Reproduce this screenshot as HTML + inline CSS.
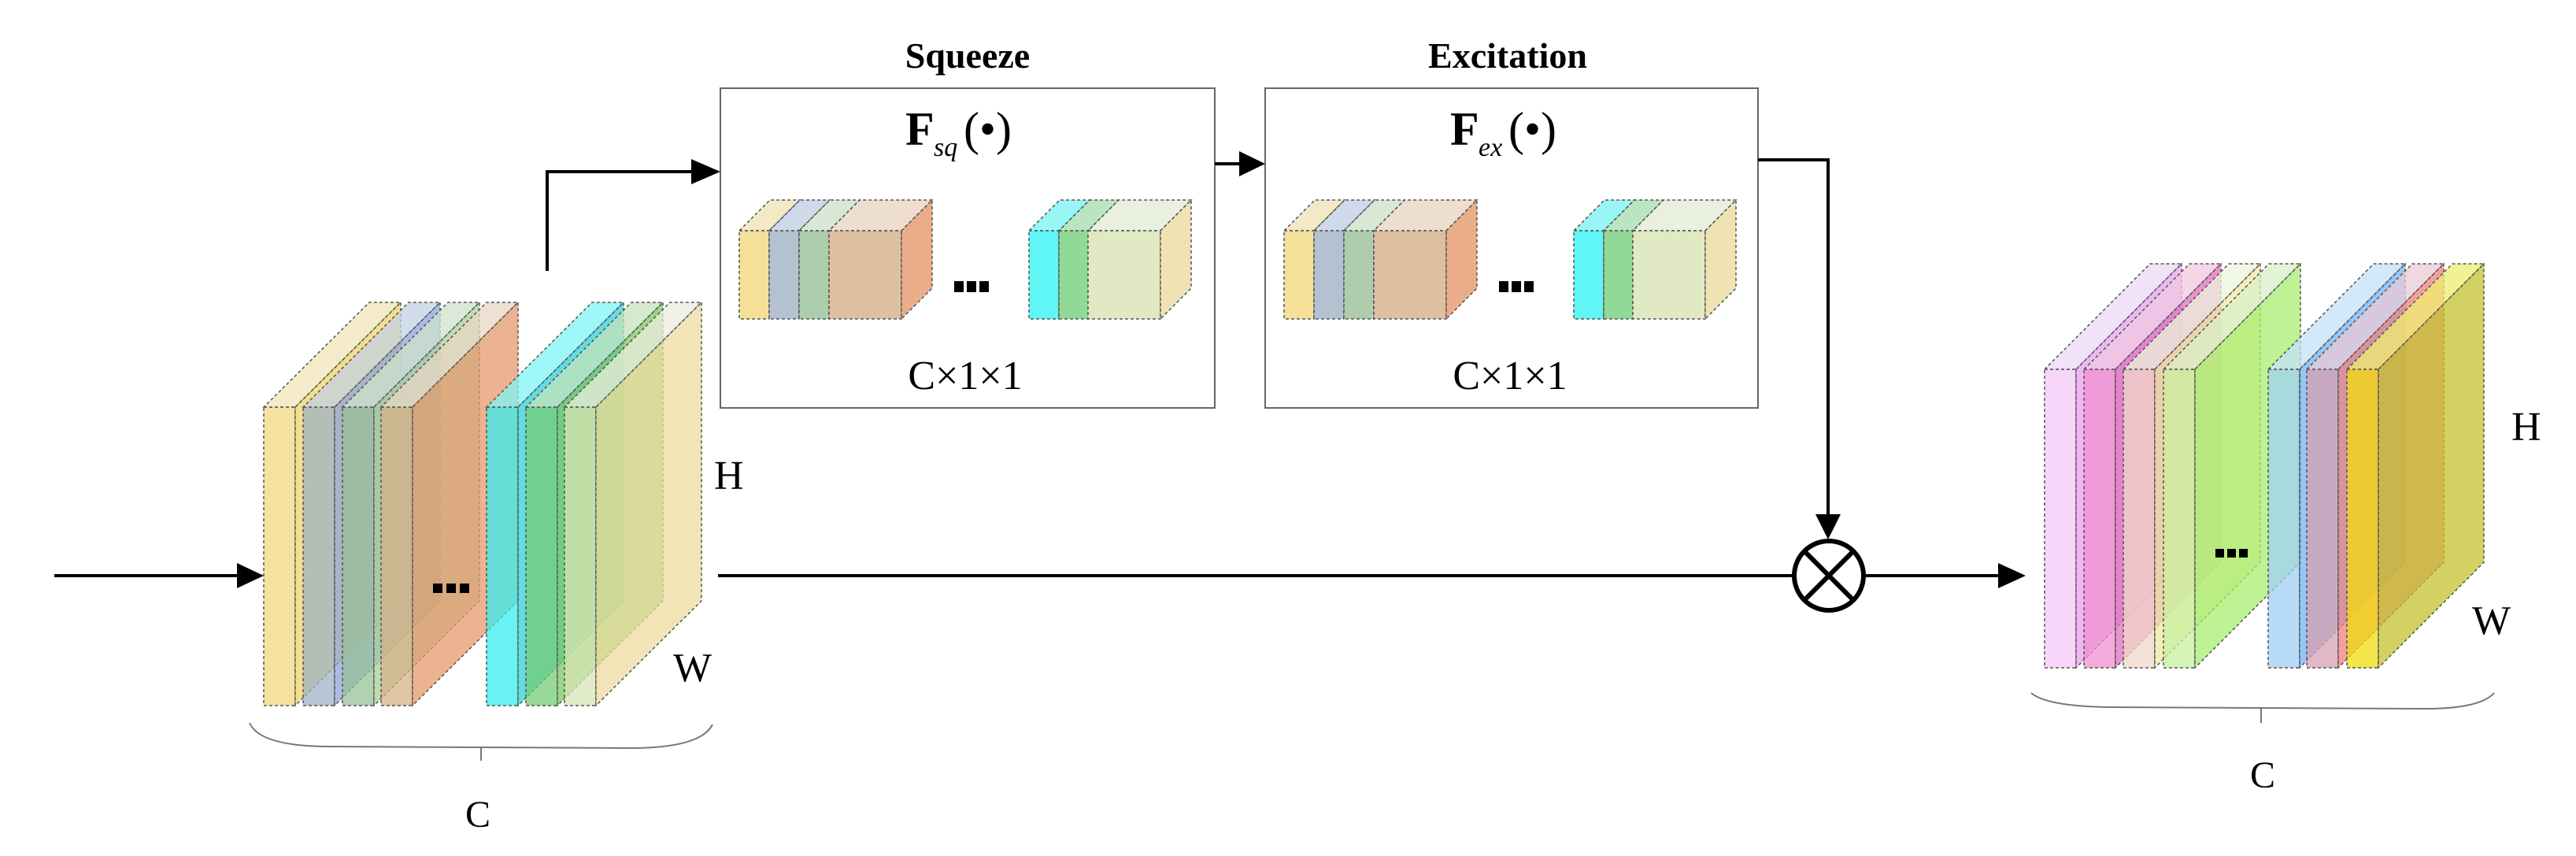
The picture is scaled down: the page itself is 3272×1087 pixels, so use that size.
<!DOCTYPE html>
<html><head><meta charset="utf-8"><style>
html,body{margin:0;padding:0;background:#fff;}
svg{display:block;}
text{font-family:"Liberation Serif",serif;fill:#000;}
.d polygon,.d rect{stroke:#555;stroke-width:1.5;stroke-dasharray:4 3;}
</style></head><body>
<svg width="3272" height="1087" viewBox="0 0 3272 1087" xmlns="http://www.w3.org/2000/svg">

<!-- LEFT STACK -->
<g class="d" fill-opacity="0.75">
<g><polygon points="335,517 375,517 509,384 469,384" fill="#efe4b8"/><rect x="335" y="517" width="40" height="379" fill="#f3d880"/><polygon points="375,517 509,384 509,763 375,896" fill="#f0d468"/></g>
<g><polygon points="385,517 425,517 559,384 519,384" fill="#c4d0e4"/><rect x="385" y="517" width="40" height="379" fill="#a0b2c4"/><polygon points="425,517 559,384 559,763 425,896" fill="#8ca6d8"/></g>
<g><polygon points="435,517 475,517 609,384 569,384" fill="#cfe2cc"/><rect x="435" y="517" width="40" height="379" fill="#98c098"/><polygon points="475,517 609,384 609,763 475,896" fill="#a8d098"/></g>
<g><polygon points="484,517 524,517 658,384 618,384" fill="#ead6c4"/><rect x="484" y="517" width="40" height="379" fill="#d6b088"/><polygon points="524,517 658,384 658,763 524,896" fill="#e49a6c"/></g>
<g><polygon points="618,517 658,517 792,384 752,384" fill="#80f4f4"/><rect x="618" y="517" width="40" height="379" fill="#38ecec"/><polygon points="658,517 792,384 792,763 658,896" fill="#30d0d8"/></g>
<g><polygon points="668,517 708,517 842,384 802,384" fill="#c4e4b8"/><rect x="668" y="517" width="40" height="379" fill="#74cc74"/><polygon points="708,517 842,384 842,763 708,896" fill="#78c860"/></g>
<g><polygon points="717,517 757,517 891,384 851,384" fill="#ecece0"/><rect x="717" y="517" width="40" height="379" fill="#d8e4b4"/><polygon points="757,517 891,384 891,763 757,896" fill="#ecdca0"/></g>
</g>
<rect x="550" y="741" width="12" height="12" fill="#000"/><rect x="567" y="741" width="12" height="12" fill="#000"/><rect x="584" y="741" width="12" height="12" fill="#000"/>
<text x="907" y="621" font-size="52">H</text>
<text x="855" y="865" font-size="52">W</text>
<path d="M317,918 Q330,948 420,948 L800,950 Q890,950 905,920" fill="none" stroke="#777" stroke-width="2"/>
<line x1="611" y1="949" x2="611" y2="966" stroke="#777" stroke-width="2"/>
<text x="607" y="1050" font-size="48" text-anchor="middle">C</text>

<!-- RIGHT STACK -->
<g class="d" fill-opacity="0.75">
<g><polygon points="2597,469 2637,469 2771,335 2731,335" fill="#ecd8f4"/><rect x="2597" y="469" width="40" height="379" fill="#f4c8f8"/><polygon points="2637,469 2771,335 2771,714 2637,848" fill="#eaa0f0"/></g>
<g><polygon points="2647,469 2687,469 2821,335 2781,335" fill="#f0c8e0"/><rect x="2647" y="469" width="40" height="379" fill="#f090d0"/><polygon points="2687,469 2821,335 2821,714 2687,848" fill="#e070c0"/></g>
<g><polygon points="2697,469 2737,469 2871,335 2831,335" fill="#ecf4dc"/><rect x="2697" y="469" width="40" height="379" fill="#f2d8c8"/><polygon points="2737,469 2871,335 2871,714 2737,848" fill="#f0e8a0"/></g>
<g><polygon points="2748,469 2788,469 2922,335 2882,335" fill="#d8f0c8"/><rect x="2748" y="469" width="40" height="379" fill="#c8f0a0"/><polygon points="2788,469 2922,335 2922,714 2788,848" fill="#a8ee70"/></g>
<g><polygon points="2881,469 2921,469 3055,335 3015,335" fill="#c4e0f8"/><rect x="2881" y="469" width="40" height="379" fill="#a0d0f4"/><polygon points="2921,469 3055,335 3055,714 2921,848" fill="#70b4f4"/></g>
<g><polygon points="2930,469 2970,469 3104,335 3064,335" fill="#eccad4"/><rect x="2930" y="469" width="40" height="379" fill="#d8a0b0"/><polygon points="2970,469 3104,335 3104,714 2970,848" fill="#f08080"/></g>
<g><polygon points="2981,469 3021,469 3155,335 3115,335" fill="#eeee70"/><rect x="2981" y="469" width="40" height="379" fill="#f0dc10"/><polygon points="3021,469 3155,335 3155,714 3021,848" fill="#c4c030"/></g>
</g>
<rect x="2814" y="697" width="11" height="11" fill="#000"/><rect x="2829" y="697" width="11" height="11" fill="#000"/><rect x="2844" y="697" width="11" height="11" fill="#000"/>
<text x="3190" y="559" font-size="52">H</text>
<text x="3140" y="805" font-size="52">W</text>
<path d="M2580,880 Q2600,897 2680,898 L3080,900 Q3150,900 3168,880" fill="none" stroke="#777" stroke-width="2"/>
<line x1="2872" y1="899" x2="2872" y2="918" stroke="#777" stroke-width="2"/>
<text x="2874" y="1000" font-size="48" text-anchor="middle">C</text>

<!-- SQUEEZE BOX -->
<rect x="915" y="112" width="628" height="406" fill="#fff" stroke="#666" stroke-width="2"/>
<text x="1229" y="86" font-size="46" font-weight="bold" text-anchor="middle">Squeeze</text>
<text x="1150" y="184" font-size="60" font-weight="bold">F</text><text x="1186" y="198" font-size="34" font-style="italic">sq</text><text x="1224" y="184" font-size="60">(•)</text>
<g class="d" fill-opacity="0.8">
<polygon points="939,293 977,293 1016,254 978,254" fill="#efe4b8"/>
<polygon points="977,293 1015,293 1054,254 1016,254" fill="#c4d0e4"/>
<polygon points="1015,293 1053,293 1092,254 1054,254" fill="#cfe2cc"/>
<polygon points="1053,293 1145,293 1184,254 1092,254" fill="#ead6c4"/>
<rect x="939" y="293" width="38" height="112" fill="#f3d880"/>
<rect x="977" y="293" width="38" height="112" fill="#a0b2c4"/>
<rect x="1015" y="293" width="38" height="112" fill="#98c098"/>
<rect x="1053" y="293" width="92" height="112" fill="#d6b088"/>
<polygon points="1145,293 1184,254 1184,366 1145,405" fill="#e49a6c"/>
<polygon points="1307,293 1345,293 1384,254 1346,254" fill="#80f4f4"/>
<polygon points="1345,293 1382,293 1421,254 1384,254" fill="#a8e0b0"/>
<polygon points="1382,293 1474,293 1513,254 1421,254" fill="#e4ecd8"/>
<rect x="1307" y="293" width="38" height="112" fill="#38f4f4"/>
<rect x="1345" y="293" width="37" height="112" fill="#74d07c"/>
<rect x="1382" y="293" width="92" height="112" fill="#d8e4b4"/>
<polygon points="1474,293 1513,254 1513,366 1474,405" fill="#ecdca0"/>
</g>
<rect x="1212" y="357" width="12" height="14" fill="#000"/><rect x="1228" y="357" width="12" height="14" fill="#000"/><rect x="1244" y="357" width="12" height="14" fill="#000"/>
<text x="1226" y="494" font-size="52" text-anchor="middle">C×1×1</text>

<!-- EXCITATION BOX -->
<rect x="1607" y="112" width="626" height="406" fill="#fff" stroke="#666" stroke-width="2"/>
<text x="1915" y="86" font-size="46" font-weight="bold" text-anchor="middle">Excitation</text>
<text x="1842" y="184" font-size="60" font-weight="bold">F</text><text x="1878" y="198" font-size="34" font-style="italic">ex</text><text x="1916" y="184" font-size="60">(•)</text>
<g class="d" fill-opacity="0.8">
<polygon points="1631,293 1669,293 1708,254 1670,254" fill="#efe4b8"/>
<polygon points="1669,293 1707,293 1746,254 1708,254" fill="#c4d0e4"/>
<polygon points="1707,293 1745,293 1784,254 1746,254" fill="#cfe2cc"/>
<polygon points="1745,293 1837,293 1876,254 1784,254" fill="#ead6c4"/>
<rect x="1631" y="293" width="38" height="112" fill="#f3d880"/>
<rect x="1669" y="293" width="38" height="112" fill="#a0b2c4"/>
<rect x="1707" y="293" width="38" height="112" fill="#98c098"/>
<rect x="1745" y="293" width="92" height="112" fill="#d6b088"/>
<polygon points="1837,293 1876,254 1876,366 1837,405" fill="#e49a6c"/>
<polygon points="1999,293 2037,293 2076,254 2038,254" fill="#80f4f4"/>
<polygon points="2037,293 2074,293 2113,254 2076,254" fill="#a8e0b0"/>
<polygon points="2074,293 2166,293 2205,254 2113,254" fill="#e4ecd8"/>
<rect x="1999" y="293" width="38" height="112" fill="#38f4f4"/>
<rect x="2037" y="293" width="37" height="112" fill="#74d07c"/>
<rect x="2074" y="293" width="92" height="112" fill="#d8e4b4"/>
<polygon points="2166,293 2205,254 2205,366 2166,405" fill="#ecdca0"/>
</g>
<rect x="1904" y="357" width="12" height="14" fill="#000"/><rect x="1920" y="357" width="12" height="14" fill="#000"/><rect x="1936" y="357" width="12" height="14" fill="#000"/>
<text x="1918" y="494" font-size="52" text-anchor="middle">C×1×1</text>

<!-- CONNECTORS -->
<g stroke="#000" stroke-width="4" fill="none">
<line x1="69" y1="731" x2="305" y2="731"/>
<polyline points="695,344 695,218 880,218"/>
<line x1="1543" y1="208" x2="1577" y2="208"/>
<polyline points="2233,203 2322,203 2322,656"/>
<line x1="912" y1="731" x2="2277" y2="731"/>
<line x1="2369" y1="731" x2="2540" y2="731"/>
<circle cx="2323" cy="731" r="44" stroke-width="6"/>
<line x1="2292" y1="700" x2="2354" y2="762" stroke-width="6"/>
<line x1="2354" y1="700" x2="2292" y2="762" stroke-width="6"/>
</g>
<g fill="#000">
<polygon points="335,731 301,715 301,747"/>
<polygon points="915,218 878,202 878,234"/>
<polygon points="1607,208 1574,192 1574,224"/>
<polygon points="2322,685 2306,653 2338,653"/>
<polygon points="2573,731 2538,715 2538,747"/>
</g>
</svg>
</body></html>
